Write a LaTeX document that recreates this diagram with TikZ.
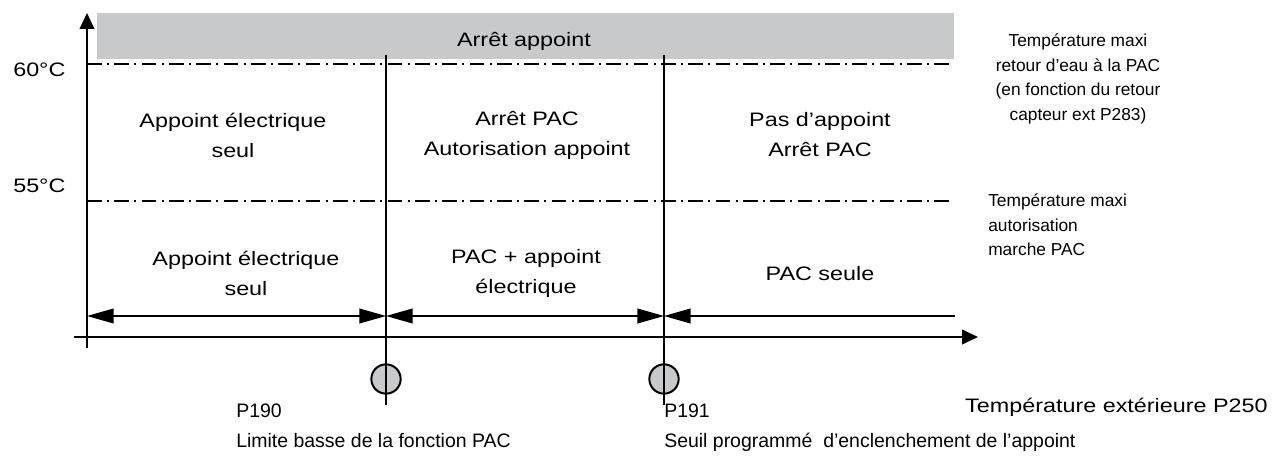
\documentclass[tikz,border=0pt]{standalone}
\usepackage{fontspec}
\setmainfont[FakeStretch=1.2]{Liberation Sans}
\newfontfamily\notefont{Liberation Sans}
\usetikzlibrary{arrows.meta,positioning}
\definecolor{fond}{RGB}{200,201,203}
\tikzset{
    axe/.style={draw, line width=1.5pt, -{Triangle[length=12pt,width=11pt]}},
    seuil/.style={draw, line width=1.2pt, dash pattern=on 11pt off 4pt on 1.5pt off 4pt},
    limite/.style={draw, line width=1.5pt},
    cote/.style={draw, line width=1.5pt, {Triangle[length=20pt,width=11pt]}-{Triangle[length=20pt,width=11pt]}},
    cotefin/.style={draw, line width=1.5pt, {Triangle[length=20pt,width=11pt]}-},
    zone/.style={align=center, font=\fontsize{14.6}{22.5}\selectfont, inner sep=0pt},
    note/.style={font=\notefont\fontsize{13}{18.4}\selectfont, inner sep=0pt},
    param/.style={font=\notefont\fontsize{14.6}{18}\selectfont, inner sep=0pt, anchor=base west},
    repere/.style={circle, draw, fill=fond, line width=1.5pt, minimum size=22pt, inner sep=0pt},
    bandeau/.style={fill=fond, minimum width=642.75pt, minimum height=34.5pt, inner sep=0pt}
}

\begin{document}
\begin{tikzpicture}[x=0.75pt, y=-0.75pt]
    \useasboundingbox (0,0) rectangle (1278,456);

    % Nodes
    \node[bandeau] (stop) at (525.5,36) {};
    \node[zone, anchor=base] (arret) at (524,47) {Arrêt appoint};

    \node[zone, anchor=base west] (t60) at (13,77) {60°C};
    \node[zone, anchor=base west] (t55) at (13,193) {55°C};

    \node[zone] (z1) at (233,135) {Appoint électrique\\seul};
    \node[zone] (z2) at (527,135) {Arrêt PAC\\Autorisation appoint};
    \node[zone] (z3) at (820,135) {Pas d’appoint\\Arrêt PAC};
    \node[zone] (z4) at (246,273) {Appoint électrique\\seul};
    \node[zone] (z5) at (526,273) {PAC + appoint\\électrique};
    \node[zone, anchor=base] (z6) at (820,280) {PAC seule};

    \node[note, align=center] (n60) at (1078,79) {Température maxi\\retour d’eau à la PAC\\(en fonction du retour\\capteur ext P283)};
    \node[note, align=left, anchor=west] (n55) at (988,225) {Température maxi\\autorisation\\marche PAC};

    \node[repere] (c190) at (386,379) {};
    \node[repere] (c191) at (664,379) {};
    \node[param] (p190) at (236,417) {P190};
    \node[param] (l190) at (236,447) {Limite basse de la fonction PAC};
    \node[param] (p191) at (664,417) {P191};
    \node[param] (l191) at (664,447) {Seuil programmé \ d’enclenchement de l’appoint};
    \node[zone, anchor=base east] (text) at (1268,412) {Température extérieure P250};

    % coordinates
    \coordinate (y0) at (87,348);
    \coordinate (y1) at (87,13);
    \coordinate (x0) at (74,337);
    \coordinate (x1) at (978,337);
    \coordinate (s60a) at (87,64);
    \coordinate (s60b) at (953,64);
    \coordinate (s55a) at (87,201);
    \coordinate (s55b) at (953,201);
    \coordinate (v1a) at (386,55);
    \coordinate (v1b) at (386,405);
    \coordinate (v2a) at (664,55);
    \coordinate (v2b) at (664,405);
    \coordinate (a0) at (87,316);
    \coordinate (a1) at (386,316);
    \coordinate (a2) at (664,316);
    \coordinate (a3) at (955,316);

    % edges
    \draw[axe] (y0) -- (y1);
    \draw[axe] (x0) -- (x1);
    \draw[seuil] (s60a) -- (s60b);
    \draw[seuil] (s55a) -- (s55b);
    \draw[limite] (v1a) -- (v1b);
    \draw[limite] (v2a) -- (v2b);
    \draw[cote] (a0) -- (a1);
    \draw[cote] (a1) -- (a2);
    \draw[cotefin] (a2) -- (a3);
\end{tikzpicture}
\end{document}
